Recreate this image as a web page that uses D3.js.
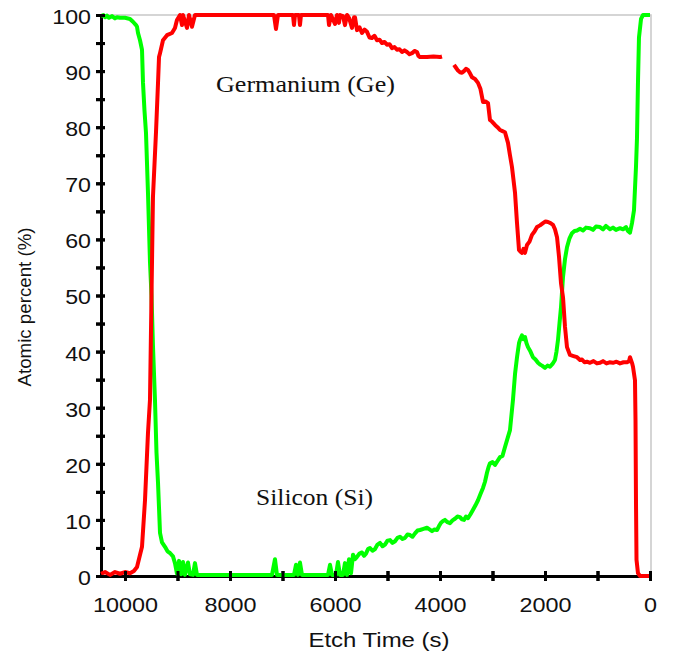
<!DOCTYPE html>
<html><head><meta charset="utf-8">
<script src="https://cdn.jsdelivr.net/npm/d3@7"></script>
<style>body{margin:0;background:#fff}</style>
</head><body><svg id="c" width="673" height="655"></svg>
<script>
// Germanium (Ge) – red. null marks the gap in the trace.
const geTime = [10457,10380,10286,10190,10095,10000,9905,9830,9771,9676,9619,9562,9524,9495,9467,9410,9371,9352,9333,9276,9200,9105,9048,9010,8952,8914,8895,8819,8781,8724,8667,
 7162,7124,7086,6800,6781,6762,6686,6667,6648,6152,6133,6114,6076,6000,5962,5924,5905,5848,5810,5771,5733,5676,5638,5619,5581,5533,5486,5438,5390,5343,5295,5248,5200,5152,5105,5057,5010,4962,4914,4867,4819,4771,4724,4676,4629,4581,4533,4486,4438,4410,4381,4248,4124,4000,3962,
 3850,
 3733,3695,3657,3619,3581,3543,3505,3467,3429,3390,3333,3276,3229,3181,3133,3086,3048,3010,2952,2905,2857,2810,2762,2705,2667,2629,2571,2533,2495,2467,2438,2410,2381,2343,2295,2248,2200,2152,2095,2038,1990,1943,1895,1848,1810,1771,1733,1695,1657,1619,1581,1524,1457,1390,1333,1295,1248,1200,1143,1076,1010,952,895,829,771,705,638,571,505,438,400,381,343,324,286,276,267,257,229,190,95,0];
const gePercent = [0.4,0.7,0.2,0.7,0.4,0.7,0.5,0.9,1.6,5.2,13.5,25.5,31.4,50,67.6,79,87.9,92.5,93.2,95.5,96.4,96.8,97.7,99.1,100,98.2,100,97.7,100,97.9,100,
 100,97.5,100,100,98.2,100,100,98.2,100,100,100,98.2,100,98.4,100,98.6,100,99.8,98.2,100,99.5,97.7,99.6,99.6,97.3,97.8,96.8,97.4,97.0,96.0,95.9,96.3,95.5,95.6,95.0,95.2,94.7,94.8,94.1,94.3,93.8,93.9,93.4,93.7,93.4,93.0,93.2,93.6,93.4,92.7,92.5,92.5,92.6,92.5,92.6,
 null,
 91.1,90.6,90.1,89.8,89.7,90.0,90.4,90.2,89.6,88.9,88.6,87.9,86.8,84.5,84.6,84.3,81.3,81.0,80.4,80.0,79.5,79.3,79.1,77.2,75.0,72.9,68.3,62.9,58.1,57.8,57.6,58.3,57.6,59.0,59.6,60.8,61.4,62.2,62.5,62.9,63.2,63.1,62.9,62.6,61.8,60.4,56.9,52.2,49.7,44.4,40.8,39.4,39.2,39.0,38.5,38.6,38.1,38.2,38.0,38.3,37.9,38.0,38.3,37.9,38.1,38.0,38.2,37.9,38.1,38.1,38.3,39.0,38.0,37.3,34.9,27.8,13.5,2.9,0.5,0,0,0];

// Silicon (Si) – green
const siTime = [10457,10410,10381,10343,10305,10248,10190,10152,10095,10000,9905,9848,9790,9771,9752,9714,9676,9657,9629,9600,9562,9524,9495,9467,9429,9400,9371,9333,9295,9238,9190,9143,9086,9048,9010,8971,8933,8895,8857,8800,8762,8705,8667,8629,
 7200,7143,7105,6781,6743,6705,6667,6629,6133,6095,6057,5981,5943,5905,5848,5810,5771,5733,5695,5657,5619,5581,5533,5486,5448,5410,5371,5333,5286,5238,5190,5143,5095,5048,5000,4952,4905,4857,4810,4762,4714,4667,4619,4571,4524,4476,4429,4381,4314,4248,4200,4152,4105,4057,4019,3981,3943,3905,3857,3810,3762,3714,3667,3619,3581,3543,3505,3467,3419,3371,3324,3276,3229,3181,3143,3105,3076,3048,3000,2952,2905,2857,2810,2762,2705,2667,2610,2571,2533,2495,2476,2438,2410,2381,2352,2324,2276,2229,2181,2133,2095,2057,2000,1952,1905,1857,1810,1781,1752,1724,1695,1657,1619,1581,1533,1486,1438,1390,1333,1276,1219,1143,1086,1029,952,895,838,762,705,648,571,514,457,419,381,343,305,267,248,229,210,171,133,0];
const siPercent = [99.8,100,99.6,99.9,99.5,99.8,99.4,99.6,99.5,99.5,99.3,98.8,98.2,97.9,96.8,95.5,93.8,87.9,83,79,68.3,56,50,41,31.4,22,16.6,7.7,6.0,5.2,4.4,4.1,3.5,2.3,0.4,2.7,0.3,2.5,0.2,2.4,0.3,0.2,2.3,0.2,
 0.2,3.0,0.2,0.2,2.0,0.2,2.4,0.2,0.2,2.0,0.2,0.2,2.5,0.2,0.2,2.3,0.2,3.0,0.5,3.8,3.0,3.4,4.0,4.2,3.6,4.0,4.8,5.0,4.5,4.8,5.6,5.9,5.3,5.6,6.3,6.4,5.9,6.2,6.8,7.0,6.6,6.8,7.4,7.3,7.0,7.6,8.1,8.2,8.4,8.6,8.3,8.0,8.3,8.2,8.9,9.5,9.8,10.0,9.6,9.4,9.9,10.2,10.6,10.5,10.1,10.0,10.6,10.3,11.0,11.8,12.6,13.5,14.6,15.7,16.8,18.4,19.4,20.1,20.3,19.8,20.5,21.2,21.4,23.0,24.8,26.0,31.4,36,39.0,41.5,42.1,42.9,42.2,42.6,41.5,40.8,40.0,39.0,38.6,38.0,37.7,37.5,37.1,37.5,37.3,37.8,38.5,40.0,42.1,45,47.9,53.3,56.5,58.6,60.2,61.1,61.5,61.6,61.9,61.6,62.1,62.0,61.7,62.3,62.2,61.8,62.4,61.8,62.1,61.7,62.0,61.8,62.2,61.5,61.2,62.9,65.2,72.9,78,88,96,99.3,100,100];

const yTicks = d3.range(0, 101, 5);
const yLabels = d3.range(0, 101, 10);
const xTicks = d3.range(0, 10001, 1000);
const xLabels = d3.range(0, 10001, 2000);

const svg = d3.select("#c");
const x = d3.scaleLinear().domain([0, 10457]).range([650, 101]);
const y = d3.scaleLinear().domain([0, 100]).range([576, 15]);
const sans = "'Liberation Sans', Arial, sans-serif";
const serif = "'Liberation Serif', 'Times New Roman', serif";

// light gray frame (top and right)
svg.append("path")
  .attr("d", `M${x(10457)},${y(100)}H651V${y(0)}`)
  .attr("fill", "none").attr("stroke", "#c8c8c8").attr("stroke-width", 1.5);

function drawAxes(g, withText) {
  const ya = g.append("g").attr("transform", `translate(${x(10457)},0)`)
    .call(d3.axisLeft(y).tickValues(yTicks).tickSize(5).tickSizeOuter(0).tickPadding(5)
      .tickFormat(d => yLabels.includes(d) ? d : ""));
  ya.selectAll(".tick line").attr("x1", 4).attr("stroke", "#000").attr("stroke-width", 3);
  ya.select(".domain").attr("stroke", "#000").attr("stroke-width", 3);
  ya.selectAll("text").attr("font-family", sans).attr("font-size", 20).attr("fill", "#111")
    .attr("dy", "0.42em")
    .attr("textLength", d => yLabels.includes(d) ? String(d).length * 12.9 : null)
    .attr("lengthAdjust", "spacingAndGlyphs");
  const xa = g.append("g").attr("transform", `translate(0,${y(0)})`)
    .call(d3.axisBottom(x).tickValues(xTicks).tickSize(5).tickSizeOuter(0).tickPadding(17)
      .tickFormat(d => xLabels.includes(d) ? d : ""));
  xa.selectAll(".tick line").attr("y1", -5).attr("stroke", "#000").attr("stroke-width", 3);
  xa.select(".domain").attr("stroke", "#000").attr("stroke-width", 3);
  xa.selectAll("text").attr("font-family", sans).attr("font-size", 20).attr("fill", "#111")
    .attr("textLength", d => xLabels.includes(d) ? String(d).length * 13 : null)
    .attr("lengthAdjust", "spacingAndGlyphs");
  if (!withText) { ya.selectAll("text").remove(); xa.selectAll("text").remove(); ya.select(".domain").remove(); xa.select(".domain").remove(); }
}
drawAxes(svg.append("g"), true);

const line = d3.line()
  .defined(d => d[1] !== null)
  .x(d => x(d[0])).y(d => y(d[1]));

svg.append("path").datum(siTime.map((t, i) => [t, siPercent[i]]))
  .attr("d", line).attr("fill", "none").attr("stroke", "#00ff00")
  .attr("stroke-width", 4).attr("stroke-linejoin", "round");
svg.append("path").datum(geTime.map((t, i) => [t, gePercent[i]]))
  .attr("d", line).attr("fill", "none").attr("stroke", "#ff0000")
  .attr("stroke-width", 4).attr("stroke-linejoin", "round");

drawAxes(svg.append("g"), false);

// annotations
svg.append("text").attr("x", 216).attr("y", 92).text("Germanium (Ge)")
  .attr("font-family", serif).attr("font-size", 23).attr("fill", "#111")
  .attr("textLength", 179).attr("lengthAdjust", "spacingAndGlyphs");
svg.append("text").attr("x", 256).attr("y", 505).text("Silicon (Si)")
  .attr("font-family", serif).attr("font-size", 23).attr("fill", "#111")
  .attr("textLength", 117).attr("lengthAdjust", "spacingAndGlyphs");

// axis titles
svg.append("text").attr("x", 379).attr("y", 647).attr("text-anchor", "middle")
  .text("Etch Time (s)").attr("font-family", sans).attr("font-size", 20).attr("fill", "#111")
  .attr("textLength", 141).attr("lengthAdjust", "spacingAndGlyphs");
svg.append("text").attr("transform", "translate(31,307) rotate(-90)").attr("text-anchor", "middle")
  .text("Atomic percent (%)").attr("font-family", sans).attr("font-size", 19).attr("fill", "#111")
  .attr("textLength", 159).attr("lengthAdjust", "spacingAndGlyphs");
</script>
</body></html>
